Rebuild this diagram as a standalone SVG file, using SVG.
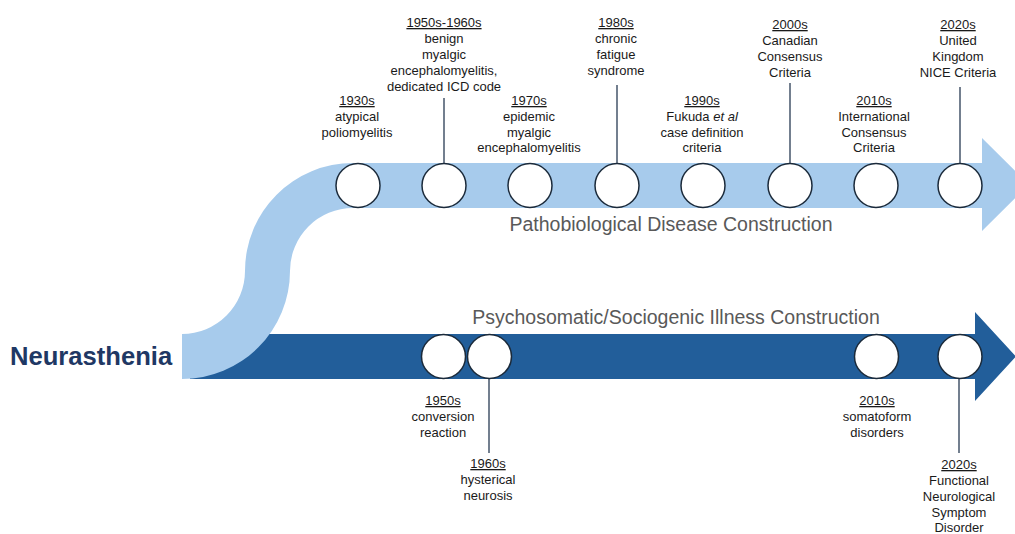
<svg xmlns="http://www.w3.org/2000/svg" width="1015" height="534" viewBox="0 0 1015 534">
<style>
.lbl{font-family:"Liberation Sans",Arial,sans-serif;font-size:13px;fill:#1a1a1a;text-anchor:middle}
.yr{text-decoration:underline}
.ttl{font-family:"Liberation Sans",Arial,sans-serif;font-size:19.5px;fill:#595959;text-anchor:middle}
.node{fill:#fff;stroke:#1b2a3a;stroke-width:1.5}
.conn{stroke:#44546a;stroke-width:1.5;fill:none}
</style>
<rect width="1015" height="534" fill="#fff"/>
<g id="tracks">
<path id="psycho-track" d="M190,334 L975,334 L975,312 L1016,356.5 L975,401 L975,379 L190,379 Z" fill="#225e9a"/>
<path id="patho-track" d="M182,334 A63,63 0 0 0 245,271 A108,108 0 0 1 353,163 L982,163 L982,138 L1029,184.5 L982,231 L982,208 L353,208 A63,63 0 0 0 290,271 A108,108 0 0 1 182,379 Z" fill="#a7cbec"/>
</g>
<g id="connectors">
<line class="conn" x1="444" y1="98" x2="444" y2="163"/>
<line class="conn" x1="617" y1="85" x2="617" y2="163"/>
<line class="conn" x1="790" y1="83" x2="790" y2="163"/>
<line class="conn" x1="960" y1="87" x2="960" y2="163"/>
<line class="conn" x1="489" y1="378" x2="489" y2="453"/>
<line class="conn" x1="959" y1="378" x2="959" y2="453"/>
</g>
<text id="neurasthenia" x="10" y="365" font-family="Liberation Sans,Arial,sans-serif" font-size="25.6" font-weight="bold" fill="#1f3864">Neurasthenia</text>
<text class="ttl" x="671" y="231">Pathobiological Disease Construction</text>
<text class="ttl" x="676" y="324">Psychosomatic/Sociogenic Illness Construction</text>
<g id="n1930">
<circle class="node" cx="358" cy="185.5" r="22"/>
<text class="lbl yr" x="357" y="105">1930s</text>
<text class="lbl" x="357" y="121">atypical</text>
<text class="lbl" x="357" y="137">poliomyelitis</text>
</g>
<g id="n1950-60">
<circle class="node" cx="444" cy="185.5" r="22"/>
<text class="lbl yr" x="444" y="27">1950s-1960s</text>
<text class="lbl" x="444" y="43">benign</text>
<text class="lbl" x="444" y="59">myalgic</text>
<text class="lbl" x="444" y="75">encephalomyelitis,</text>
<text class="lbl" x="444" y="91">dedicated ICD code</text>
</g>
<g id="n1970">
<circle class="node" cx="530" cy="185.5" r="22"/>
<text class="lbl yr" x="529" y="105">1970s</text>
<text class="lbl" x="529" y="121">epidemic</text>
<text class="lbl" x="529" y="137">myalgic</text>
<text class="lbl" x="529" y="152">encephalomyelitis</text>
</g>
<g id="n1980">
<circle class="node" cx="617" cy="185.5" r="22"/>
<text class="lbl yr" x="616" y="27">1980s</text>
<text class="lbl" x="616" y="43">chronic</text>
<text class="lbl" x="616" y="59">fatigue</text>
<text class="lbl" x="616" y="75">syndrome</text>
</g>
<g id="n1990">
<circle class="node" cx="703" cy="185.5" r="22"/>
<text class="lbl yr" x="702" y="105">1990s</text>
<text class="lbl" x="702" y="121">Fukuda <tspan font-style="italic">et al</tspan></text>
<text class="lbl" x="702" y="137">case definition</text>
<text class="lbl" x="702" y="152">criteria</text>
</g>
<g id="n2000">
<circle class="node" cx="790" cy="185.5" r="22"/>
<text class="lbl yr" x="790" y="29">2000s</text>
<text class="lbl" x="790" y="45">Canadian</text>
<text class="lbl" x="790" y="61">Consensus</text>
<text class="lbl" x="790" y="77">Criteria</text>
</g>
<g id="n2010">
<circle class="node" cx="876" cy="185.5" r="22"/>
<text class="lbl yr" x="874" y="105">2010s</text>
<text class="lbl" x="874" y="121">International</text>
<text class="lbl" x="874" y="137">Consensus</text>
<text class="lbl" x="874" y="152">Criteria</text>
</g>
<g id="n2020">
<circle class="node" cx="960" cy="185.5" r="22"/>
<text class="lbl yr" x="958" y="29">2020s</text>
<text class="lbl" x="958" y="45">United</text>
<text class="lbl" x="958" y="61">Kingdom</text>
<text class="lbl" x="958" y="77">NICE Criteria</text>
</g>
<g id="p1950">
<circle class="node" cx="443.5" cy="356.5" r="22"/>
<text class="lbl yr" x="443" y="405">1950s</text>
<text class="lbl" x="443" y="421">conversion</text>
<text class="lbl" x="443" y="437">reaction</text>
</g>
<g id="p1960">
<circle class="node" cx="489.5" cy="356.5" r="22"/>
<text class="lbl yr" x="488" y="468">1960s</text>
<text class="lbl" x="488" y="484">hysterical</text>
<text class="lbl" x="488" y="500">neurosis</text>
</g>
<g id="p2010">
<circle class="node" cx="876.5" cy="356.5" r="22"/>
<text class="lbl yr" x="877" y="405">2010s</text>
<text class="lbl" x="877" y="421">somatoform</text>
<text class="lbl" x="877" y="437">disorders</text>
</g>
<g id="p2020">
<circle class="node" cx="960" cy="356.5" r="22"/>
<text class="lbl yr" x="959" y="469">2020s</text>
<text class="lbl" x="959" y="485">Functional</text>
<text class="lbl" x="959" y="501">Neurological</text>
<text class="lbl" x="959" y="517">Symptom</text>
<text class="lbl" x="959" y="532">Disorder</text>
</g>
</svg>
